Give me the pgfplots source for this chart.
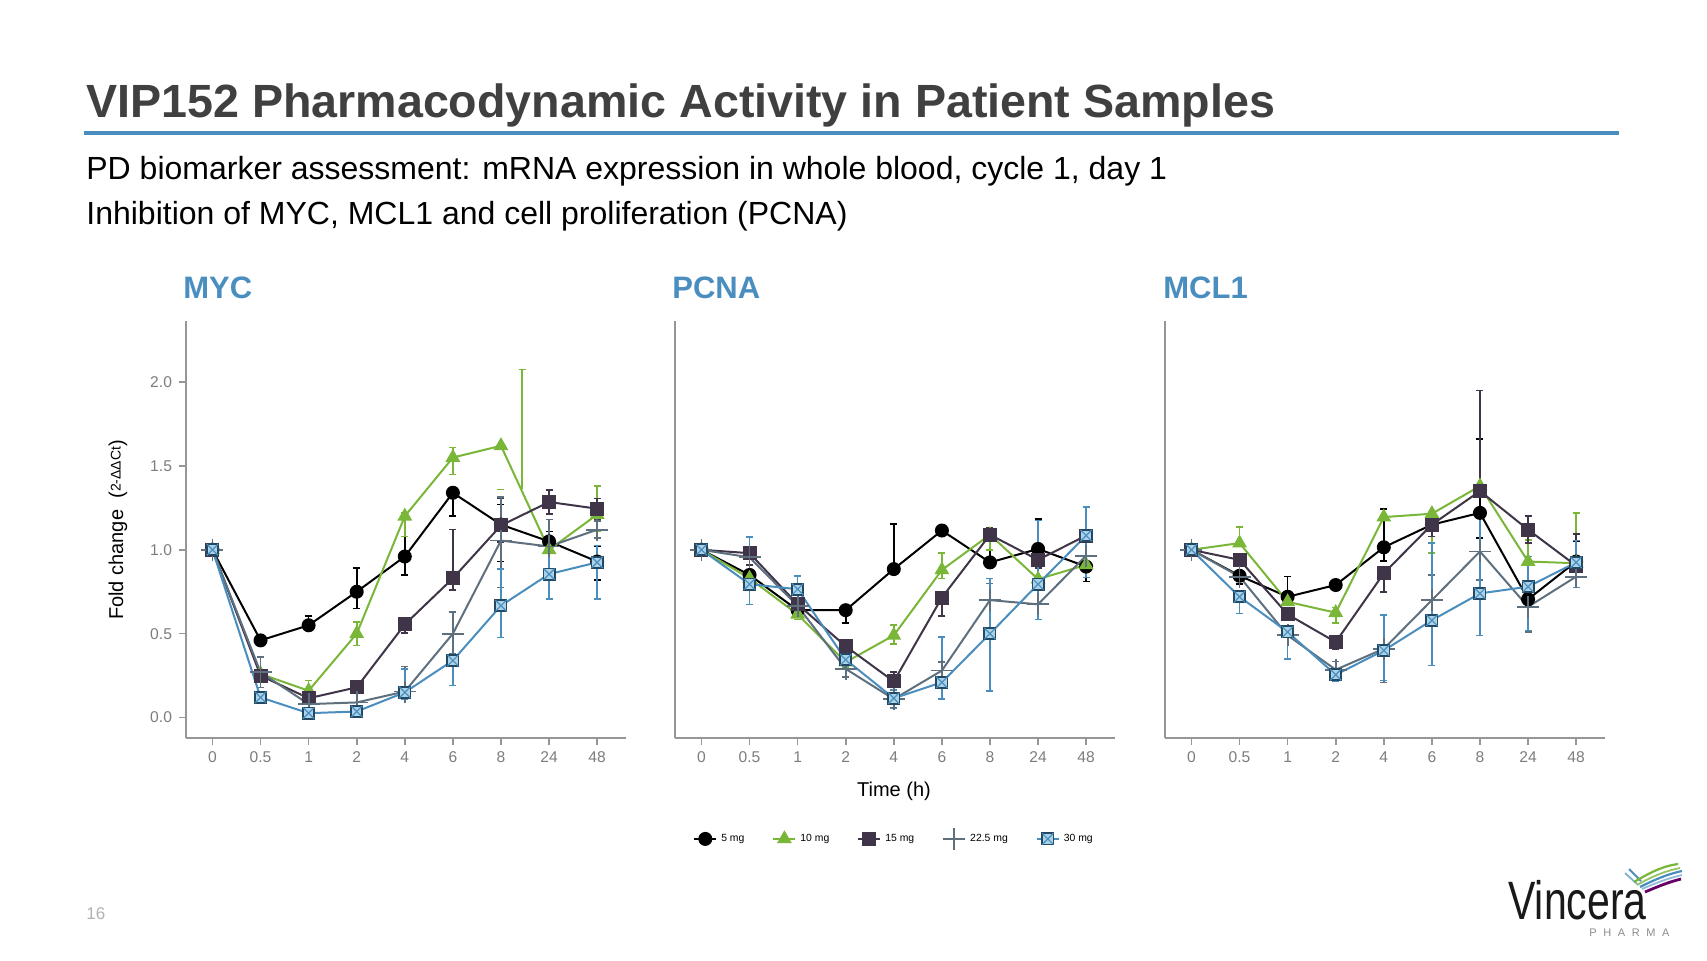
\documentclass[border=0pt]{standalone}
\usepackage{pgfplots}
\pgfplotsset{compat=1.18}
\usepackage{fontspec}
\setmainfont{Liberation Sans}
\usetikzlibrary{plotmarks}

\definecolor{c10}{RGB}{122,182,56}
\definecolor{c15}{RGB}{64,52,72}
\definecolor{c225}{RGB}{94,112,126}
\definecolor{c30}{RGB}{74,142,190}
\definecolor{c30e}{RGB}{34,72,100}
\definecolor{c30f}{RGB}{170,210,232}
\definecolor{axisgray}{RGB}{150,150,150}
\definecolor{ticklab}{RGB}{125,125,125}
\definecolor{titlegray}{RGB}{64,64,64}
\definecolor{hblue}{RGB}{74,142,192}

\pgfdeclareplotmark{boxx}{%
 \pgfpathrectangle{\pgfqpoint{-\pgfplotmarksize}{-\pgfplotmarksize}}{\pgfqpoint{2\pgfplotmarksize}{2\pgfplotmarksize}}%
 \pgfusepathqfillstroke
 \pgfscope
 \pgfsetstrokecolor{c30}%
 \pgfsetlinewidth{0.6pt}%
 \pgfpathmoveto{\pgfqpoint{-\pgfplotmarksize}{-\pgfplotmarksize}}%
 \pgfpathlineto{\pgfqpoint{\pgfplotmarksize}{\pgfplotmarksize}}%
 \pgfpathmoveto{\pgfqpoint{-\pgfplotmarksize}{\pgfplotmarksize}}%
 \pgfpathlineto{\pgfqpoint{\pgfplotmarksize}{-\pgfplotmarksize}}%
 \pgfusepathqstroke
 \endpgfscope}

\pgfplotsset{
 panel/.style={
  scale only axis, width=220pt, height=208.5pt,
  xmin=-0.55, xmax=8.6, ymin=-0.122, ymax=2.364,
  axis x line*=bottom, axis y line*=left,
  axis line style={draw=axisgray, line width=0.8pt},
  xtick={0,...,8}, xticklabels={0,0.5,1,2,4,6,8,24,48},
  tick align=outside, major tick length=3.5pt,
  tick style={draw=axisgray, line width=0.8pt},
  ticklabel style={font=\fontsize{7.8}{9}\selectfont, text=ticklab},
  /pgf/number format/assume math mode=true,
  ytick=\empty,
  clip=false,
  every axis plot/.append style={line width=1pt},
 },
 eb/.style={/pgfplots/error bars/y dir=both, /pgfplots/error bars/y explicit,
  /pgfplots/error bars/error mark=-,
  /pgfplots/error bars/error bar style={line width=0.8pt},
  /pgfplots/error bars/error mark options={rotate=90, line width=0.8pt, mark size=1.75pt}},
 s5/.style={color=black, mark=*, mark size=3pt},
 s10/.style={color=c10, mark=triangle*, mark size=3.3pt},
 s15/.style={color=c15, mark=square*, mark size=3pt},
 s225/.style={color=c225, mark=+, mark size=5.5pt, mark options={line width=0.9pt}},
 s30/.style={color=c30, mark=boxx, mark size=2.8pt, mark options={draw=c30e, fill=c30f, line width=0.9pt},
   /pgfplots/error bars/error mark options={rotate=90, line width=0.8pt, mark size=1.75pt, draw=c30}},
}

\begin{document}
\begin{tikzpicture}
\fill[white] (0,0) rectangle (853.5pt,480pt);
\useasboundingbox (0,0) rectangle (853.5pt,480pt);

% ---------------- MYC ----------------
\begin{axis}[panel, at={(93pt,111pt)}, anchor=south west,
  ytick={0,0.5,1,1.5,2}, yticklabels={0.0,0.5,1.0,1.5,2.0}]
\addplot[s5,eb] table[x=x,y=y,y error plus=p,y error minus=m]{
x y p m
0 1.00 0 0
1 0.46 0.03 0.03
2 0.55 0.055 0.03
3 0.75 0.14 0.10
4 0.96 0.12 0.11
5 1.34 0.02 0.14
6 1.15 0.12 0.22
7 1.05 0.06 0.06
8 0.93 0.09 0.11
};
\addplot[s10,eb] table[x=x,y=y,y error plus=p,y error minus=m]{
x y p m
0 1.00 0 0
1 0.26 0 0
2 0.16 0.06 0.02
3 0.50 0.07 0.07
4 1.20 0.02 0.12
5 1.55 0.06 0.10
6 1.62 0 0
7 1.00 0 0
8 1.21 0.17 0.10
};
\addplot[color=c10, line width=0.8pt, mark=none, eb, /pgfplots/error bars/y dir=plus, forget plot] table[x=x,y=y,y error plus=p,y error minus=m]{
x y p m
6.44 1.363 0.712 0
};
\addplot[color=c10, only marks, mark=-, mark size=1.75pt, mark options={line width=0.8pt}, forget plot] coordinates {(6,1.36)};
\addplot[s15,eb] table[x=x,y=y,y error plus=p,y error minus=m]{
x y p m
0 1.00 0 0
1 0.25 0 0
2 0.115 0 0
3 0.18 0 0
4 0.555 0.03 0.05
5 0.83 0.29 0.07
6 1.145 0.16 0.10
7 1.285 0.07 0.07
8 1.245 0.06 0.06
};
\addplot[s225,eb] table[x=x,y=y,y error plus=p,y error minus=m]{
x y p m
0 1.00 0 0
1 0.27 0.09 0.09
2 0.08 0 0
3 0.09 0 0
4 0.155 0.15 0.04
5 0.50 0.13 0.12
6 1.055 0.26 0.28
7 1.02 0.16 0.16
8 1.12 0.05 0.05
};
\addplot[s30,eb] table[x=x,y=y,y error plus=p,y error minus=m]{
x y p m
0 1.00 0 0
1 0.12 0.03 0.03
2 0.026 0 0
3 0.036 0 0
4 0.15 0.14 0.04
5 0.34 0 0.15
6 0.667 0.22 0.19
7 0.855 0.15 0.15
8 0.925 0.10 0.22
};
\end{axis}

% ---------------- PCNA ----------------
\begin{axis}[panel, at={(337.5pt,111pt)}, anchor=south west,
  legend style={at={(0.5,-0.242)}, anchor=center, draw=none, fill=none,
    legend columns=5, font=\fontsize{5.2}{6}\selectfont, inner sep=0pt,
    /tikz/every even column/.append style={column sep=12pt}},
  legend image code/.code={\draw[mark repeat=2, mark phase=2, #1] plot coordinates {(0pt,0pt) (5.5pt,0pt) (11pt,0pt)};}]
\addplot[s5,eb] table[x=x,y=y,y error plus=p,y error minus=m]{
x y p m
0 1.00 0 0
1 0.85 0.06 0.05
2 0.64 0 0.03
3 0.64 0 0.075
4 0.885 0.27 0
5 1.115 0.02 0.02
6 0.925 0.07 0.03
7 1.005 0.18 0.05
8 0.90 0 0.09
};
\addlegendentry{5 mg}
\addplot[s10,eb] table[x=x,y=y,y error plus=p,y error minus=m]{
x y p m
0 1.00 0 0
1 0.83 0 0
2 0.615 0.03 0.03
3 0.33 0.03 0.03
4 0.49 0.06 0.05
5 0.88 0.10 0.05
6 1.09 0 0.09
7 0.825 0 0
8 0.91 0 0
};
\addlegendentry{10 mg}
\addplot[s15,eb] table[x=x,y=y,y error plus=p,y error minus=m]{
x y p m
0 1.00 0 0
1 0.98 0 0.07
2 0.675 0 0
3 0.425 0 0
4 0.215 0.055 0.03
5 0.715 0 0.11
6 1.09 0.04 0.03
7 0.94 0.06 0.05
8 1.085 0.03 0.03
};
\addlegendentry{15 mg}
\addplot[s225,eb] table[x=x,y=y,y error plus=p,y error minus=m]{
x y p m
0 1.00 0 0
1 0.955 0 0
2 0.665 0 0
3 0.29 0 0.05
4 0.11 0 0.05
5 0.28 0.05 0
6 0.70 0.10 0
7 0.675 0 0
8 0.965 0 0
};
\addlegendentry{22.5 mg}
\addplot[s30,eb] table[x=x,y=y,y error plus=p,y error minus=m]{
x y p m
0 1.00 0 0
1 0.795 0.28 0.12
2 0.765 0.08 0.06
3 0.345 0 0.04
4 0.115 0.05 0.06
5 0.21 0.27 0.10
6 0.50 0.33 0.34
7 0.795 0.38 0.21
8 1.085 0.17 0.25
};
\addlegendentry{30 mg}
\end{axis}

% ---------------- MCL1 ----------------
\begin{axis}[panel, at={(582.5pt,111pt)}, anchor=south west]
\addplot[s5,eb] table[x=x,y=y,y error plus=p,y error minus=m]{
x y p m
0 1.00 0 0
1 0.845 0.03 0.05
2 0.72 0.12 0
3 0.79 0.02 0.02
4 1.015 0.23 0.08
5 1.15 0.07 0.07
6 1.22 0.44 0.15
7 0.705 0.04 0.04
8 0.93 0.12 0.09
};
\addplot[s10,eb] table[x=x,y=y,y error plus=p,y error minus=m]{
x y p m
0 1.00 0 0
1 1.04 0.095 0
2 0.69 0 0
3 0.625 0.03 0.06
4 1.195 0 0
5 1.215 0 0.235
6 1.38 0 0
7 0.93 0.13 0
8 0.92 0.30 0
};
\addplot[s15,eb] table[x=x,y=y,y error plus=p,y error minus=m]{
x y p m
0 1.00 0 0
1 0.94 0 0
2 0.615 0 0
3 0.45 0 0.04
4 0.86 0 0.11
5 1.15 0.07 0.07
6 1.35 0.60 0
7 1.12 0.08 0.08
8 0.905 0.19 0
};
\addplot[s225,eb] table[x=x,y=y,y error plus=p,y error minus=m]{
x y p m
0 1.00 0 0
1 0.84 0 0
2 0.49 0 0
3 0.285 0.05 0
4 0.41 0.20 0.20
5 0.70 0.15 0
6 0.99 0.20 0.17
7 0.66 0 0.15
8 0.84 0 0
};
\addplot[s30,eb] table[x=x,y=y,y error plus=p,y error minus=m]{
x y p m
0 1.00 0 0
1 0.72 0 0.10
2 0.51 0 0.16
3 0.255 0 0.04
4 0.40 0.21 0.18
5 0.58 0.46 0.27
6 0.74 0.46 0.25
7 0.78 0.18 0.26
8 0.925 0.13 0.15
};
\end{axis}

% ---------------- texts (pixel coordinates, y downward) ----------------
\begin{scope}[x=0.5pt,y=-0.5pt,shift={(0pt,480pt)}]
\node[anchor=base west, inner sep=0pt, font=\fontsize{23.3}{28}\selectfont\bfseries, text=titlegray] at (86,117.6) {VIP152 Pharmacodynamic Activity in Patient Samples};
\fill[hblue] (84,131) rectangle (1619,135.5);
\node[anchor=base west, inner sep=0pt, font=\fontsize{16}{19}\selectfont] at (86,180) {PD biomarker assessment: mRNA expression in whole blood, cycle 1, day 1};
\node[anchor=base west, inner sep=0pt, font=\fontsize{16}{19}\selectfont] at (86,225) {Inhibition of MYC, MCL1 and cell proliferation (PCNA)};
\node[anchor=base west, inner sep=0pt, font=\fontsize{15.5}{18}\selectfont\bfseries, text=hblue] at (183,299) {MYC};
\node[anchor=base west, inner sep=0pt, font=\fontsize{15.5}{18}\selectfont\bfseries, text=hblue] at (672,299) {PCNA};
\node[anchor=base west, inner sep=0pt, font=\fontsize{15.5}{18}\selectfont\bfseries, text=hblue] at (1163,299) {MCL1};
\node[rotate=90, inner sep=0pt, font=\fontsize{10}{12}\selectfont] at (118,530) {Fold change\ \ ({\fontsize{7}{8}\selectfont\raisebox{0.35ex}{2-ΔΔCt}})};
\node[inner sep=0pt, font=\fontsize{10}{12}\selectfont] at (894,791) {Time (h)};
\node[anchor=west, inner sep=0pt, font=\fontsize{8.5}{10}\selectfont, text=black!30] at (86,914) {16};
% logo
\node[anchor=base west, inner sep=0pt, text depth=0pt, xscale=0.76, font=\fontsize{27}{30}\selectfont, text=black!90] at (1508,919) {Vincera};
\node[anchor=base west, inner sep=0pt, font=\fontsize{5.5}{6}\selectfont, text=black!45] at (1589,936) {P\hspace{3.3pt}H\hspace{3.3pt}A\hspace{3.3pt}R\hspace{3.3pt}M\hspace{3.3pt}A};
\draw[c30, line width=0.9pt] (1629,869) .. controls (1635,875) .. (1641,881);
\draw[c30!70, line width=0.9pt] (1625,873) .. controls (1631,878) .. (1637,884);
\draw[c10, line width=1.1pt] (1634,882) .. controls (1651,872) and (1663,866) .. (1678,864);
\draw[c10!80, line width=0.9pt] (1637,885) .. controls (1653,876) and (1665,871) .. (1680,868);
\draw[c30, line width=1.1pt] (1640,887) .. controls (1656,879) and (1668,874) .. (1682,871);
\draw[c30!60, line width=0.9pt] (1642,889) .. controls (1658,882) and (1669,878) .. (1682,875);
\draw[violet!80!black, line width=1.4pt] (1645,892) .. controls (1659,886) and (1669,882) .. (1681,879);
\end{scope}
\end{tikzpicture}
\end{document}
